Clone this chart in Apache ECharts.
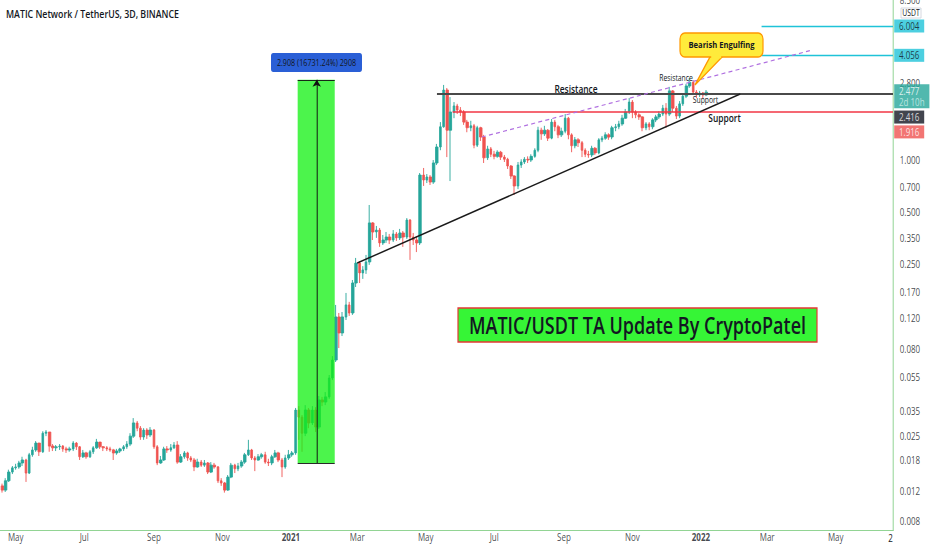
<!DOCTYPE html>
<html><head><meta charset="utf-8">
<script src="https://cdn.jsdelivr.net/npm/echarts@6.0.0/dist/echarts.min.js"></script>
<style>
html,body{margin:0;padding:0;overflow:hidden;background:#fff;width:932px;height:550px}
#wrap{width:932px;height:550px;overflow:hidden;position:relative}
#chart{width:1165px;height:550px;transform:scaleX(0.8);transform-origin:0 0}
</style></head><body><div id="wrap"><div id="chart"></div></div>
<script>
// ---------- data ----------
const chartTitle = 'MATIC Network / TetherUS, 3D, BINANCE';
const candleStart = '2020-04-19';
const candleStepDays = 3;
const firstOpen = 0.0128;
const closes = [
0.0121,0.0137,0.0154,0.0163,0.0165,0.0174,0.0181,0.0152,0.0194,0.0207,
0.0227,0.0202,0.0259,0.0263,0.0218,0.0213,0.0216,0.0218,0.0210,0.0207,
0.0210,0.0227,0.0216,0.0189,0.0199,0.0189,0.0202,0.0213,0.0230,0.0216,
0.0213,0.0210,0.0207,0.0199,0.0204,0.0210,0.0216,0.0224,0.0249,0.0297,
0.0277,0.0246,0.0270,0.0253,0.0270,0.0216,0.0174,0.0181,0.0210,0.0207,
0.0213,0.0221,0.0176,0.0189,0.0199,0.0186,0.0181,0.0165,0.0176,0.0169,
0.0174,0.0154,0.0169,0.0165,0.0137,0.0133,0.0121,0.0144,0.0169,0.0161,
0.0167,0.0176,0.0194,0.0207,0.0186,0.0181,0.0189,0.0194,0.0176,0.0174,
0.0189,0.0199,0.0181,0.0165,0.0186,0.0194,0.0199,0.0353,0.0321,0.0259,
0.0353,0.0297,0.0353,0.0281,0.0404,0.0393,0.0421,0.0542,0.0689,0.1226,
0.0990,0.1226,0.144,0.1293,0.193,0.252,0.221,0.230,0.256,0.431,
0.382,0.392,0.330,0.343,0.357,0.343,0.372,0.353,0.377,0.357,
0.448,0.357,0.343,0.330,0.818,0.765,0.797,0.745,0.961,1.19,
1.56,2.55,1.49,1.90,2.06,1.95,1.90,1.66,1.54,1.58,
1.22,1.54,1.36,1.03,1.16,1.08,1.05,1.11,1.04,1.01,
0.923,0.807,0.707,0.935,0.974,1.01,1.00,1.05,1.14,1.49,
1.42,1.49,1.34,1.66,1.56,1.40,1.47,1.75,1.40,1.21,
1.31,1.26,1.14,1.08,1.07,1.17,1.10,1.31,1.34,1.40,
1.36,1.54,1.56,1.62,1.75,1.90,2.17,1.90,1.83,1.78,
1.54,1.62,1.56,1.71,1.78,1.85,2.00,1.85,2.52,2.00,
1.80,2.12,2.35,2.69,2.83,2.48,2.39,2.45,2.39,2.477
];
const highs = [
0.0132,0.0142,0.0159,0.0167,0.0172,0.0179,0.0189,0.0184,0.0199,0.0216,
0.0233,0.0227,0.0266,0.0270,0.0263,0.0224,0.0221,0.0224,0.0221,0.0216,
0.0216,0.0233,0.0230,0.0218,0.0207,0.0202,0.0207,0.0218,0.0240,0.0230,
0.0218,0.0218,0.0216,0.0210,0.0210,0.0213,0.0221,0.0233,0.0259,0.0317,
0.0305,0.0285,0.0277,0.0277,0.0281,0.0274,0.0221,0.0191,0.0216,0.0218,
0.0224,0.0230,0.0233,0.0196,0.0204,0.0202,0.0191,0.0186,0.0184,0.0181,
0.0181,0.0176,0.0176,0.0174,0.0167,0.0142,0.0135,0.0148,0.0174,0.0172,
0.0174,0.0181,0.0199,0.0237,0.0210,0.0191,0.0196,0.0199,0.0202,0.0184,
0.0194,0.0207,0.0202,0.0186,0.0194,0.0207,0.0204,0.0363,0.0372,0.0330,
0.0377,0.0363,0.0372,0.0367,0.0426,0.0421,0.0449,0.0564,0.0726,0.144,
0.1293,0.131,0.169,0.150,0.201,0.270,0.259,0.242,0.281,0.548,
0.436,0.414,0.403,0.367,0.382,0.372,0.392,0.382,0.398,0.387,
0.460,0.454,0.377,0.362,0.840,0.899,0.829,0.818,1.00,1.24,
1.66,2.73,2.62,2.32,2.17,2.12,2.03,1.95,1.71,1.69,
1.62,1.58,1.56,1.40,1.21,1.19,1.13,1.14,1.13,1.07,
1.03,0.935,0.818,0.974,1.01,1.04,1.05,1.08,1.17,1.56,
1.54,1.58,1.51,1.73,1.71,1.60,1.54,1.85,1.78,1.43,
1.36,1.34,1.29,1.17,1.13,1.21,1.19,1.34,1.38,1.45,
1.43,1.58,1.62,1.69,1.83,1.98,2.29,2.23,1.95,1.87,
1.80,1.66,1.66,1.75,1.83,1.92,2.09,2.14,2.66,2.55,
2.06,2.20,2.42,2.77,2.99,2.91,2.55,2.52,2.48,2.55
];
const lows = [
0.0117,0.0118,0.0135,0.0150,0.0159,0.0161,0.0167,0.0135,0.0150,0.0189,
0.0202,0.0191,0.0199,0.0249,0.0202,0.0204,0.0204,0.0207,0.0202,0.0199,
0.0202,0.0204,0.0207,0.0181,0.0186,0.0184,0.0186,0.0196,0.0210,0.0210,
0.0204,0.0204,0.0202,0.0181,0.0194,0.0199,0.0204,0.0210,0.0218,0.0243,
0.0266,0.0237,0.0237,0.0240,0.0246,0.0210,0.0169,0.0172,0.0179,0.0199,
0.0202,0.0210,0.0172,0.0174,0.0184,0.0179,0.0176,0.0156,0.0163,0.0165,
0.0165,0.0150,0.0152,0.0161,0.0133,0.0128,0.0117,0.0120,0.0142,0.0152,
0.0156,0.0163,0.0172,0.0191,0.0181,0.0156,0.0179,0.0184,0.0172,0.0167,
0.0169,0.0186,0.0176,0.0144,0.0161,0.0181,0.0189,0.0194,0.0237,0.0202,
0.0249,0.0277,0.0289,0.0263,0.0274,0.0372,0.0377,0.0410,0.0527,0.0671,
0.0809,0.0950,0.1177,0.1243,0.126,0.183,0.193,0.204,0.218,0.246,
0.343,0.353,0.313,0.321,0.330,0.325,0.334,0.339,0.343,0.313,
0.348,0.263,0.321,0.292,0.321,0.707,0.735,0.716,0.726,0.935,
1.14,1.54,1.04,0.755,1.75,1.85,1.80,1.60,1.45,1.47,
1.17,1.19,1.29,0.961,1.00,1.04,1.01,1.03,1.00,0.974,
0.887,0.776,0.626,0.678,0.899,0.948,0.961,0.974,1.03,1.11,
1.31,1.38,1.29,1.32,1.47,1.34,1.36,1.43,1.32,1.11,
1.17,1.19,1.04,1.04,1.03,1.04,1.07,1.08,1.27,1.31,
1.31,1.32,1.47,1.51,1.58,1.73,1.85,1.75,1.75,1.71,
1.47,1.49,1.49,1.51,1.66,1.73,1.80,1.54,1.80,1.90,
1.73,1.75,2.06,2.29,2.62,2.39,2.29,2.32,2.29,2.35
];

const xAxisMin = '2020-04-17';
const xAxisMax = '2022-06-21';
const xTickDates = ['2020-05-01','2020-07-01','2020-09-01','2020-11-01','2021-01-01','2021-03-01','2021-05-01','2021-07-01','2021-09-01','2021-11-01','2022-01-01','2022-03-01','2022-05-01'];
const xTickLabels = ['May','Jul','Sep','Nov','2021','Mar','May','Jul','Sep','Nov','2022','Mar','May'];
const yAxisMin = 0.00705;
const yAxisMax = 8.5;
const yTickValues = [8.5, 2.8, 1.0, 0.7, 0.5, 0.35, 0.25, 0.17, 0.12, 0.08, 0.055, 0.035, 0.025, 0.018, 0.012, 0.008];

const resistanceLevel = 2.416, resistanceFrom = '2021-05-11';
const supportLevel = 1.916, supportFrom = '2021-05-25';
const targetLevels = [6.004, 4.056], targetFrom = '2022-02-24';
const lastPrice = 2.477, barCountdown = '2d 10h';
const risingTrend = [['2021-03-01', 0.252], ['2022-02-05', 2.416]];
const channelTop = [['2021-06-20', 1.36], ['2022-04-10', 4.35]];
const measureFrom = '2021-01-07', measureTo = '2021-02-09', measureMid = '2021-01-24';
const measureLow = 0.01738, measureHigh = 2.9254;
const measureText = '2.908 (16731.24%) 2908';
const boxText = 'MATIC/USDT TA Update By CryptoPatel';
const notes = ['Resistance', 'Support', 'Bearish Engulfing'];

// ---------- helpers ----------
const S = 0.8;                 // horizontal squeeze of the reference picture
const W = 932 / S;
const G = x => x / S;           // reference x -> inner x
const T = s => Date.parse(s + 'T00:00:00Z');
const DAY = 86400000;
const FONT = "'Open Sans', 'Noto Sans', sans-serif";
const INK = '#131722';
const UP = '#26a69a', DOWN = '#ef5350';
const AXIS_GREEN = '#86cf88';
const CYAN = '#1fc3d8';
const NONE = 'rgba(0,0,0,0)';
const xMaxT = T(xAxisMax);
const xTickTimes = xTickDates.map(T);

const candleData = closes.map((c, i) => [
  T(candleStart) + i * candleStepDays * DAY,
  i === 0 ? firstOpen : closes[i - 1], c, lows[i], highs[i]
]);

function seg(a, b, style, extraFrom, extraTo) {
  return [Object.assign({coord: a, lineStyle: style}, extraFrom || {}),
          Object.assign({coord: b, lineStyle: style}, extraTo || {})];
}
const blackLine = {color: '#1a1a1a', width: 1.5, type: 'solid'};
const markLines = [
  seg([T(resistanceFrom), resistanceLevel], [xMaxT, resistanceLevel], {color: '#4a4a4a', width: 1.8, type: 'solid'}),
  seg([T(supportFrom), supportLevel], [xMaxT, supportLevel], {color: '#f23645', width: 1.5, type: 'solid'}),
  ...targetLevels.map(v => seg([T(targetFrom), v], [xMaxT, v], {color: CYAN, width: 1.3, type: 'solid'})),
  seg([T(risingTrend[0][0]), risingTrend[0][1]], [T(risingTrend[1][0]), risingTrend[1][1]], blackLine),
  seg([T(channelTop[0][0]), channelTop[0][1]], [T(channelTop[1][0]), channelTop[1][1]], {color: '#b070e0', width: 1.2, type: [5, 4]}),
  seg([T(measureFrom), measureHigh], [T(measureTo), measureHigh], {color: '#111', width: 1, type: 'solid'}),
  seg([T(measureFrom), measureLow], [T(measureTo), measureLow], {color: '#111', width: 1, type: 'solid'}),
  seg([T(measureMid), measureLow], [T(measureMid), measureHigh], {color: '#111', width: 1.2, type: 'solid'},
      {symbol: 'none'}, {symbol: 'arrow', symbolSize: [8, 7]})
];

const tagItems = [
  {value: [xMaxT, targetLevels[0]], label: {formatter: targetLevels[0].toFixed(3), backgroundColor: CYAN, color: INK}},
  {value: [xMaxT, targetLevels[1]], label: {formatter: targetLevels[1].toFixed(3), backgroundColor: CYAN, color: INK}},
  {value: [xMaxT, lastPrice], label: {formatter: lastPrice.toFixed(3) + '\n{s|' + barCountdown + '}', backgroundColor: UP, color: '#fff', offset: [0, 4]}},
  {value: [xMaxT, resistanceLevel], label: {formatter: resistanceLevel.toFixed(3), backgroundColor: INK, color: '#fff', offset: [0, 23]}},
  {value: [xMaxT, supportLevel], label: {formatter: supportLevel.toFixed(3), backgroundColor: DOWN, color: '#fff', offset: [0, 20.5]}}
];

const txt = (x, y, text, size, weight, extra) => Object.assign({
  type: 'text', x: x, y: y, z: 110,
  style: {text: text, fill: INK, fontSize: size, fontWeight: weight, fontFamily: FONT, align: 'center', verticalAlign: 'middle'}
}, extra || {});

const chart = echarts.init(document.getElementById('chart'), null, {renderer: 'svg', width: W, height: 550});
chart.setOption({
  animation: false,
  backgroundColor: '#ffffff',
  textStyle: {fontFamily: FONT},
  grid: {left: 0, right: G(932 - 893), top: 0, bottom: 19.5, containLabel: false},
  xAxis: {
    type: 'time', min: T(xAxisMin), max: xMaxT,
    axisLine: {show: true, onZero: false, lineStyle: {color: AXIS_GREEN, width: 1}},
    axisTick: {show: false}, splitLine: {show: false}, axisLabel: {show: false}
  },
  yAxis: {
    type: 'log', logBase: 10, position: 'right', min: yAxisMin, max: yAxisMax,
    axisLine: {show: true, lineStyle: {color: AXIS_GREEN, width: 1}},
    axisTick: {show: false}, axisLabel: {show: false}, splitLine: {show: false}
  },
  series: [
    {
      type: 'candlestick', name: 'MATICUSDT', data: candleData,
      encode: {x: 0, y: [1, 2, 3, 4]},
      barWidth: 3, z: 2,
      itemStyle: {color: UP, color0: DOWN, borderColor: UP, borderColor0: DOWN, borderWidth: 1},
      markArea: {
        silent: true, z: 3, label: {show: false},
        itemStyle: {color: 'rgba(20,240,20,0.76)'},
        data: [[{coord: [T(measureFrom), measureLow]}, {coord: [T(measureTo), measureHigh]}]]
      },
      markLine: {silent: true, z: 5, symbol: ['none', 'none'], label: {show: false}, emphasis: {disabled: true}, data: markLines}
    },
    {
      type: 'scatter', name: 'timeScale', silent: true, clip: false, z: 6,
      symbolSize: 1, itemStyle: {color: NONE},
      data: xTickTimes.map(t => [t, yAxisMin]),
      label: {show: true, position: 'bottom', distance: 1, color: INK, fontSize: 10, fontFamily: FONT,
        formatter: p => {
          const s = xTickLabels[p.dataIndex];
          return /^\d{4}$/.test(s) ? '{b|' + s + '}' : s;
        },
        rich: {b: {fontWeight: 'bold', fontSize: 10, color: INK, fontFamily: FONT}}}
    },
    {
      type: 'scatter', name: 'priceScale', silent: true, clip: false, z: 6,
      symbolSize: 1, itemStyle: {color: NONE},
      data: yTickValues.map(v => [xMaxT, v]),
      label: {show: true, position: 'right', distance: 8, color: INK, fontSize: 10, fontFamily: FONT,
        formatter: p => p.value[1].toFixed(3)}
    },
    {
      type: 'scatter', name: 'priceTags', silent: true, clip: false, z: 8,
      symbolSize: 1, itemStyle: {color: NONE},
      data: tagItems,
      label: {show: true, position: 'right', distance: 1, fontSize: 10, fontFamily: FONT, lineHeight: 11,
        padding: [1, 6, 1, 6],
        rich: {s: {color: '#d6f2ee', fontSize: 10, fontFamily: FONT, lineHeight: 11}}}
    }
  ],
  graphic: [
    {type: 'text', x: G(6), y: 13.5, z: 110,
     style: {text: chartTitle, fill: INK, fontSize: 11, fontWeight: 600, fontFamily: FONT, verticalAlign: 'middle'}},
    {type: 'rect', z: 110, shape: {x: G(271), y: 53, width: G(91), height: 19, r: 3}, style: {fill: '#2a5fd6'}},
    txt(G(316.5), 62.5, measureText, 9, 'normal', {z: 111}),
    txt(G(576), 89, notes[0], 10.5, 600),
    txt(G(724.5), 118.5, notes[1], 10.5, 600),
    txt(G(676), 77.5, notes[0], 8.5, 'normal'),
    txt(G(705.5), 100, notes[1], 8.5, 'normal'),
    {type: 'polygon', z: 110, shape: {points: [[G(711), 55], [G(724), 55], [G(695), 85]]},
     style: {fill: '#ffeb3b', stroke: '#ff9800', lineWidth: 1.5}},
    {type: 'rect', z: 111, shape: {x: G(680), y: 33, width: G(83), height: 24, r: 6},
     style: {fill: '#ffeb3b', stroke: '#ff9800', lineWidth: 1.5}},
    {type: 'line', z: 112, shape: {x1: G(711.2), y1: 57, x2: G(721.2), y2: 57}, style: {stroke: '#ffeb3b', lineWidth: 2.4}},
    txt(G(721.5), 45, notes[2], 9.5, 'bold', {z: 113}),
    {type: 'rect', z: 110, shape: {x: G(458), y: 308, width: G(359), height: 34},
     style: {fill: '#36f536', stroke: '#e53935', lineWidth: 1.5}},
    txt(G(637.5), 325.5, boxText, 22.5, 600, {z: 111}),
    {type: 'rect', z: 110, shape: {x: G(901), y: 8, width: G(20), height: 10}, style: {fill: '#fff', stroke: '#d1d4dc', lineWidth: 1}},
    txt(G(911), 13, 'USDT', 8.5, 'normal', {z: 111}),
    txt(G(890.5), 538, '2', 10, 'normal')
  ]
});
</script></body></html>
